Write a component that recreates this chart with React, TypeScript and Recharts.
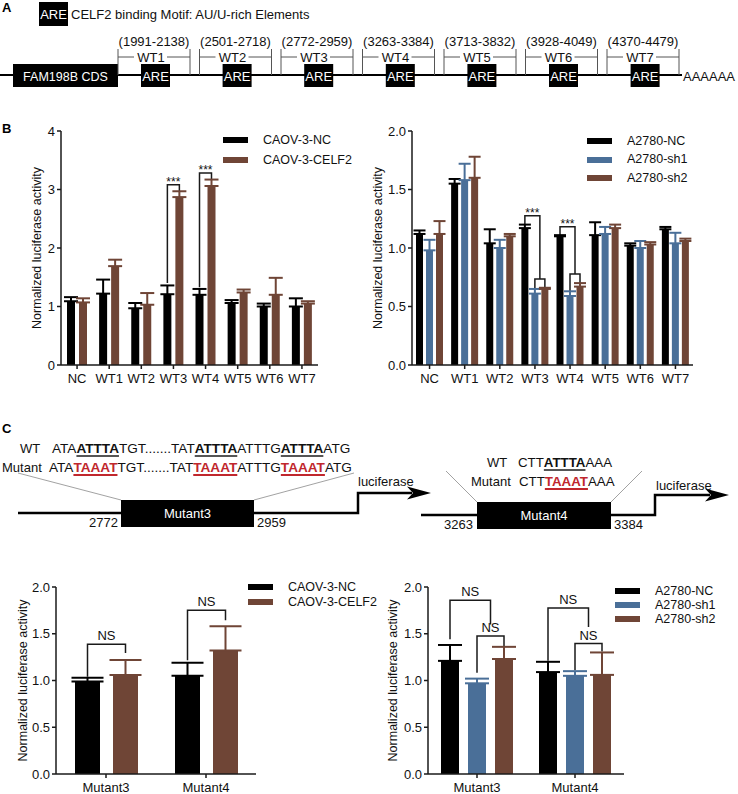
import React from "react";
import { BarChart, Bar, XAxis, YAxis, ErrorBar, Legend } from "recharts";

const FONT = '"Liberation Sans", Arial, Helvetica, sans-serif';
const INK = "#111111";
const BLACK = "#000000";
const BROWN = "#6f4536";
const BLUE = "#4a6f98";
const RED = "#c0272d";

// ---- panel A: ARE map
const areLabels = ["WT1", "WT2", "WT3", "WT4", "WT5", "WT6", "WT7"];
const areRanges = [
  "(1991-2138)",
  "(2501-2718)",
  "(2772-2959)",
  "(3263-3384)",
  "(3713-3832)",
  "(3928-4049)",
  "(4370-4479)",
];

// ---- panel B: wild-type reporters
const bCategories = ["NC", "WT1", "WT2", "WT3", "WT4", "WT5", "WT6", "WT7"];
const caovNc = [1.09, 1.22, 0.97, 1.21, 1.2, 1.06, 1.0, 1.0];
const caovNcErr = [0.07, 0.24, 0.09, 0.15, 0.1, 0.05, 0.05, 0.14];
const caovCelf2 = [1.07, 1.69, 1.03, 2.87, 3.06, 1.24, 1.2, 1.05];
const caovCelf2Err = [0.07, 0.11, 0.2, 0.1, 0.11, 0.05, 0.29, 0.04];

const a2780Nc = [1.12, 1.55, 1.04, 1.17, 1.1, 1.11, 1.02, 1.16];
const a2780NcErr = [0.03, 0.04, 0.12, 0.03, 0.01, 0.11, 0.02, 0.02];
const a2780Sh1 = [0.98, 1.58, 1.0, 0.61, 0.59, 1.12, 1.0, 1.04];
const a2780Sh1Err = [0.09, 0.14, 0.07, 0.04, 0.04, 0.06, 0.06, 0.09];
const a2780Sh2 = [1.12, 1.6, 1.1, 0.65, 0.67, 1.17, 1.03, 1.06];
const a2780Sh2Err = [0.11, 0.18, 0.02, 0.01, 0.03, 0.03, 0.02, 0.02];

// ---- panel C: mutant reporters
const cCategories = ["Mutant3", "Mutant4"];
const mutCaovNc = [0.99, 1.05];
const mutCaovNcErr = [0.04, 0.14];
const mutCaovCelf2 = [1.06, 1.32];
const mutCaovCelf2Err = [0.16, 0.26];

const mutA2780Nc = [1.21, 1.09];
const mutA2780NcErr = [0.17, 0.11];
const mutA2780Sh1 = [0.97, 1.05];
const mutA2780Sh1Err = [0.05, 0.05];
const mutA2780Sh2 = [1.23, 1.06];
const mutA2780Sh2Err = [0.13, 0.24];

// significance brackets: from/to are series indexes (x.5 = middle of two bars)
type Bracket = {
  cat: string;
  from: number;
  to: number;
  top: number;
  fromEnd: number;
  toEnd: number;
  label: string;
};

const bLeftBrackets: Bracket[] = [
  { cat: "WT3", from: 0, to: 1, top: 3.08, fromEnd: 1.4, toEnd: 2.97, label: "***" },
  { cat: "WT4", from: 0, to: 1, top: 3.28, fromEnd: 1.33, toEnd: 3.18, label: "***" },
];
const bRightBrackets: Bracket[] = [
  { cat: "WT3", from: 0, to: 1.5, top: 1.276, fromEnd: 1.2, toEnd: 0.735, label: "***" },
  { cat: "WT3", from: 1, to: 2, top: 0.735, fromEnd: 0.65, toEnd: 0.667, label: "" },
  { cat: "WT4", from: 0, to: 1.5, top: 1.182, fromEnd: 1.11, toEnd: 0.778, label: "***" },
  { cat: "WT4", from: 1, to: 2, top: 0.778, fromEnd: 0.632, toEnd: 0.7, label: "" },
];
const cLeftBrackets: Bracket[] = [
  { cat: "Mutant3", from: 0, to: 1, top: 1.388, fromEnd: 1.04, toEnd: 1.295, label: "NS" },
  { cat: "Mutant4", from: 0, to: 1, top: 1.751, fromEnd: 1.217, toEnd: 1.644, label: "NS" },
];
const cRightBrackets: Bracket[] = [
  { cat: "Mutant3", from: 0, to: 1.5, top: 1.858, fromEnd: 1.441, toEnd: 1.6, label: "NS" },
  { cat: "Mutant3", from: 1, to: 2, top: 1.477, fromEnd: 1.082, toEnd: 1.37, label: "NS" },
  { cat: "Mutant4", from: 0, to: 1.5, top: 1.776, fromEnd: 1.21, toEnd: 1.573, label: "NS" },
  { cat: "Mutant4", from: 1, to: 2, top: 1.395, fromEnd: 1.11, toEnd: 1.31, label: "NS" },
];

type Series = { key: string; name: string; color: string; values: number[]; errs: number[] };

type ChartProps = {
  left: number;
  top: number;
  width: number;
  height: number;
  mTop: number;
  mRight: number;
  yWidth: number;
  xHeight: number;
  max: number;
  ticks: number[];
  decimals: number;
  categories: string[];
  series: Series[];
  barSize: number;
  barGap: number;
  capWidth: number;
  brackets: Bracket[];
  bracketFont: number;
  bracketDy: number;
  labelOffset: number;
  legendX: number;
  legendY: number;
  legendRow: number;
};

function LuciferaseChart(p: ChartProps) {
  const data = p.categories.map((cat, i) => {
    const row: any = { cat };
    p.series.forEach((s) => {
      row[s.key] = s.values[i];
      row[s.key + "Err"] = [0, s.errs[i]];
    });
    return row;
  });
  const lastIdx = p.series.length - 1;

  // the last bar of each group also draws the brackets, so they sit on top of all bars
  const lastShape = (props: any) => {
    const { x, y, width, height, payload } = props;
    const last = p.series[lastIdx];
    const val = payload[last.key];
    const base = y + height;
    const unit = height / val;
    const yOf = (v: number) => base - v * unit;
    const cx = (k: number) => x - (lastIdx - k) * (width + p.barGap) + width / 2;
    const own = p.brackets.filter((b) => b.cat === payload.cat);
    return (
      <g>
        <rect x={x} y={y} width={width} height={height} fill={last.color} />
        {own.map((b, j) => {
          const x1 = cx(b.from);
          const x2 = cx(b.to);
          const yt = yOf(b.top);
          return (
            <g key={j}>
              <path
                d={`M${x1},${yOf(b.fromEnd)}V${yt}H${x2}V${yOf(b.toEnd)}`}
                fill="none"
                stroke="#1a1a1a"
                strokeWidth={1.5}
              />
              {b.label ? (
                <text
                  x={(x1 + x2) / 2}
                  y={yt + p.bracketDy}
                  textAnchor="middle"
                  fontSize={p.bracketFont}
                  fill={INK}
                >
                  {b.label}
                </text>
              ) : null}
            </g>
          );
        })}
      </g>
    );
  };

  const legendContent = () => (
    <div style={{ fontFamily: FONT, fontSize: 12.5, color: INK }}>
      {p.series.map((s) => (
        <div key={s.key} style={{ position: "relative", height: p.legendRow, width: 150 }}>
          <div
            style={{
              position: "absolute",
              left: 0,
              top: p.legendRow / 2 - 3,
              width: 25,
              height: 6,
              background: s.color,
            }}
          />
          <div
            style={{
              position: "absolute",
              left: 40,
              top: 0,
              lineHeight: p.legendRow + "px",
              whiteSpace: "nowrap",
            }}
          >
            {s.name}
          </div>
        </div>
      ))}
    </div>
  );

  const axisStyle = { stroke: "#1a1a1a", strokeWidth: 1.5 };

  return (
    <div style={{ position: "absolute", left: p.left, top: p.top }}>
      <BarChart
        width={p.width}
        height={p.height}
        data={data}
        margin={{ top: p.mTop, right: p.mRight, bottom: 0, left: 0 }}
        barGap={p.barGap}
        barSize={p.barSize}
      >
        <XAxis
          dataKey="cat"
          interval={0}
          height={p.xHeight}
          tickSize={4}
          tickMargin={5}
          axisLine={axisStyle}
          tickLine={axisStyle}
          tick={{ fontSize: 13, fill: INK }}
        />
        <YAxis
          width={p.yWidth}
          domain={[0, p.max]}
          ticks={p.ticks}
          tickSize={4}
          tickMargin={2}
          axisLine={axisStyle}
          tickLine={axisStyle}
          tick={{ fontSize: 13, fill: INK }}
          tickFormatter={(v: number) => v.toFixed(p.decimals)}
          label={{
            value: "Normalized luciferase activity",
            angle: -90,
            position: "insideLeft",
            offset: p.labelOffset,
            style: { textAnchor: "middle", fontSize: 12.5, fill: INK },
          }}
        />
        <Legend
          layout="horizontal"
          align="center"
          verticalAlign="middle"
          wrapperStyle={{ left: p.legendX, top: p.legendY, width: 150 }}
          content={legendContent}
        />
        {p.series.map((s, i) => (
          <Bar
            key={s.key}
            dataKey={s.key}
            name={s.name}
            fill={s.color}
            isAnimationActive={false}
            shape={i === lastIdx ? lastShape : undefined}
          >
            <ErrorBar
              dataKey={s.key + "Err"}
              width={p.capWidth}
              strokeWidth={2}
              stroke={s.color}
              isAnimationActive={false}
            />
          </Bar>
        ))}
      </BarChart>
    </div>
  );
}

function PanelA() {
  return (
    <g>
      <text x={2} y={12} fontSize={13} fontWeight="bold">A</text>
      <rect x={39} y={2} width={29} height={24} fill="#000" />
      <text x={53.5} y={19} fontSize={13} fill="#fff" textAnchor="middle">ARE</text>
      <text x={71} y={19} fontSize={13} fill={INK}>CELF2 binding Motif: AU/U-rich Elements</text>
      <line x1={0} y1={75} x2={682} y2={75} stroke="#000" strokeWidth={2} />
      <rect x={13} y={64} width={105} height={23} fill="#000" />
      <text x={65.5} y={80.5} fontSize={12.5} fill="#fff" textAnchor="middle">FAM198B CDS</text>
      {areLabels.map((lab, i) => {
        const L = 118 + i * 81.5;
        const R = L + 72;
        const c = (L + R) / 2;
        const bx = 141 + i * 81.6;
        return (
          <g key={lab}>
            <line x1={L} y1={49} x2={L} y2={75} stroke="#555" strokeWidth={1} />
            <line x1={R} y1={49} x2={R} y2={75} stroke="#555" strokeWidth={1} />
            <line x1={L} y1={57} x2={c - 20} y2={57} stroke="#555" strokeWidth={1} />
            <line x1={c + 13} y1={57} x2={R} y2={57} stroke="#555" strokeWidth={1} />
            <text x={c - 3} y={62} fontSize={13} textAnchor="middle" fill={INK}>{lab}</text>
            <text x={c} y={46} fontSize={13} textAnchor="middle" fill={INK}>{areRanges[i]}</text>
            <rect x={bx} y={64} width={29} height={23} fill="#000" />
            <text x={bx + 14.5} y={81} fontSize={13} fill="#fff" textAnchor="middle">ARE</text>
          </g>
        );
      })}
      <text x={683} y={81} fontSize={13} fill={INK}>AAAAAA</text>
    </g>
  );
}

function PanelCDiagram() {
  const thin = { stroke: "#8a8a8a", strokeWidth: 0.8 };
  return (
    <g>
      <text x={2} y={433} fontSize={13} fontWeight="bold">C</text>
      <line x1={18} y1={473} x2={121} y2={500} {...thin} />
      <line x1={354} y1={473} x2={254} y2={500} {...thin} />
      <line x1={446} y1={471} x2={477} y2={502} {...thin} />
      <line x1={642} y1={471} x2={611} y2={502} {...thin} />

      <line x1={18} y1={513} x2={121} y2={513} stroke="#000" strokeWidth={2.5} />
      <rect x={121} y={500} width={133} height={27} fill="#000" />
      <text x={187.5} y={518} fontSize={13} fill="#fff" textAnchor="middle">Mutant3</text>
      <text x={118} y={527} fontSize={13} textAnchor="end" fill={INK}>2772</text>
      <text x={257} y={527} fontSize={13} fill={INK}>2959</text>
      <polyline points="254,513 358,513 358,493 412,493" fill="none" stroke="#000" strokeWidth={2.5} />
      <polygon points="431,493 407,486.5 413,493 407,499.5" fill="#000" />
      <text x={358} y={486} fontSize={13} fill={INK}>luciferase</text>

      <line x1={421} y1={515} x2={477} y2={515} stroke="#000" strokeWidth={2.5} />
      <rect x={477} y={502} width={134} height={27} fill="#000" />
      <text x={544} y={520} fontSize={13} fill="#fff" textAnchor="middle">Mutant4</text>
      <text x={473} y={529} fontSize={13} textAnchor="end" fill={INK}>3263</text>
      <text x={614} y={529} fontSize={13} fill={INK}>3384</text>
      <polyline points="611,515 655,515 655,495 710,495" fill="none" stroke="#000" strokeWidth={2.5} />
      <polygon points="729,495 705,488.5 711,495 705,501.5" fill="#000" />
      <text x={656} y={490} fontSize={13} fill={INK}>luciferase</text>
    </g>
  );
}

type Seg = { t: string; mark?: boolean };
const wtSeq3: Seg[] = [
  { t: "ATA" }, { t: "ATTTA", mark: true }, { t: "TGT.......TAT" },
  { t: "ATTTA", mark: true }, { t: "ATTTG" }, { t: "ATTTA", mark: true }, { t: "ATG" },
];
const mutSeq3: Seg[] = [
  { t: "ATA" }, { t: "TAAAT", mark: true }, { t: "TGT.......TAT" },
  { t: "TAAAT", mark: true }, { t: "ATTTG" }, { t: "TAAAT", mark: true }, { t: "ATG" },
];
const wtSeq4: Seg[] = [{ t: "CTT" }, { t: "ATTTA", mark: true }, { t: "AAA" }];
const mutSeq4: Seg[] = [{ t: "CTT" }, { t: "TAAAT", mark: true }, { t: "AAA" }];

function SeqLine(props: {
  label: string;
  labelX: number;
  x: number;
  baseline: number;
  segs: Seg[];
  markColor: string;
  lineColor: string;
  size: number;
}) {
  const top = props.baseline - 12;
  const common: React.CSSProperties = {
    position: "absolute",
    top,
    lineHeight: "15px",
    whiteSpace: "nowrap",
    color: INK,
  };
  return (
    <>
      <div style={{ ...common, left: props.labelX, fontSize: 13 }}>{props.label}</div>
      <div style={{ ...common, left: props.x, fontSize: props.size }}>
        {props.segs.map((s, i) =>
          s.mark ? (
            <span
              key={i}
              style={{
                fontWeight: "bold",
                color: props.markColor,
                textDecoration: "underline",
                textDecorationColor: props.lineColor,
                textDecorationThickness: "2px",
                textUnderlineOffset: "2px",
              }}
            >
              {s.t}
            </span>
          ) : (
            <span key={i}>{s.t}</span>
          )
        )}
      </div>
    </>
  );
}

export default function App() {
  const common = {
    barGap: 0,
    bracketFont: 13,
    bracketDy: -4,
  };
  return (
    <div
      style={{
        position: "absolute",
        left: 0,
        top: 0,
        width: 738,
        height: 794,
        background: "#fff",
        fontFamily: FONT,
        color: INK,
        overflow: "hidden",
      }}
    >
      <svg
        width={738}
        height={794}
        style={{ position: "absolute", left: 0, top: 0, fontFamily: FONT }}
      >
        <PanelA />
        <text x={2} y={133} fontSize={13} fontWeight="bold">B</text>
        <PanelCDiagram />
      </svg>

      <SeqLine label="WT" labelX={20} x={52} baseline={453} segs={wtSeq3} markColor={INK} lineColor="#555" size={13.6} />
      <SeqLine label="Mutant" labelX={2} x={49} baseline={472} segs={mutSeq3} markColor={RED} lineColor={RED} size={13.6} />
      <SeqLine label="WT" labelX={487} x={518} baseline={467} segs={wtSeq4} markColor={INK} lineColor="#555" size={13.3} />
      <SeqLine label="Mutant" labelX={471} x={519} baseline={486} segs={mutSeq4} markColor={RED} lineColor={RED} size={13.3} />

      <LuciferaseChart
        {...common}
        left={0}
        top={110}
        width={340}
        height={290}
        mTop={21}
        mRight={22}
        yWidth={61}
        xHeight={35}
        max={4}
        ticks={[0, 1, 2, 3, 4]}
        decimals={0}
        categories={bCategories}
        series={[
          { key: "nc", name: "CAOV-3-NC", color: BLACK, values: caovNc, errs: caovNcErr },
          { key: "celf2", name: "CAOV-3-CELF2", color: BROWN, values: caovCelf2, errs: caovCelf2Err },
        ]}
        barSize={8}
        barGap={4}
        capWidth={7}
        brackets={bLeftBrackets}
        bracketFont={12}
        bracketDy={1}
        labelOffset={37}
        legendX={223}
        legendY={20}
        legendRow={20}
      />
      <LuciferaseChart
        {...common}
        left={370}
        top={110}
        width={368}
        height={290}
        mTop={21}
        mRight={45}
        yWidth={42}
        xHeight={35}
        max={2}
        ticks={[0, 0.5, 1, 1.5, 2]}
        decimals={1}
        categories={bCategories}
        series={[
          { key: "nc", name: "A2780-NC", color: BLACK, values: a2780Nc, errs: a2780NcErr },
          { key: "sh1", name: "A2780-sh1", color: BLUE, values: a2780Sh1, errs: a2780Sh1Err },
          { key: "sh2", name: "A2780-sh2", color: BROWN, values: a2780Sh2, errs: a2780Sh2Err },
        ]}
        barSize={7}
        barGap={3}
        capWidth={6}
        brackets={bRightBrackets}
        bracketFont={12}
        bracketDy={1}
        labelOffset={8}
        legendX={217}
        legendY={21.75}
        legendRow={18.5}
      />
      <LuciferaseChart
        {...common}
        left={0}
        top={570}
        width={360}
        height={224}
        mTop={17}
        mRight={104}
        yWidth={56}
        xHeight={20}
        max={2}
        ticks={[0, 0.5, 1, 1.5, 2]}
        decimals={1}
        categories={cCategories}
        series={[
          { key: "nc", name: "CAOV-3-NC", color: BLACK, values: mutCaovNc, errs: mutCaovNcErr },
          { key: "celf2", name: "CAOV-3-CELF2", color: BROWN, values: mutCaovCelf2, errs: mutCaovCelf2Err },
        ]}
        barSize={25}
        barGap={13}
        capWidth={16}
        brackets={cLeftBrackets}
        labelOffset={23}
        legendX={248}
        legendY={9.5}
        legendRow={15}
      />
      <LuciferaseChart
        {...common}
        left={370}
        top={570}
        width={368}
        height={224}
        mTop={17}
        mRight={114}
        yWidth={58}
        xHeight={20}
        max={2}
        ticks={[0, 0.5, 1, 1.5, 2]}
        decimals={1}
        categories={cCategories}
        series={[
          { key: "nc", name: "A2780-NC", color: BLACK, values: mutA2780Nc, errs: mutA2780NcErr },
          { key: "sh1", name: "A2780-sh1", color: BLUE, values: mutA2780Sh1, errs: mutA2780Sh1Err },
          { key: "sh2", name: "A2780-sh2", color: BROWN, values: mutA2780Sh2, errs: mutA2780Sh2Err },
        ]}
        barSize={18}
        barGap={9}
        capWidth={12}
        brackets={cRightBrackets}
        labelOffset={23}
        legendX={245}
        legendY={14}
        legendRow={14}
      />
    </div>
  );
}
